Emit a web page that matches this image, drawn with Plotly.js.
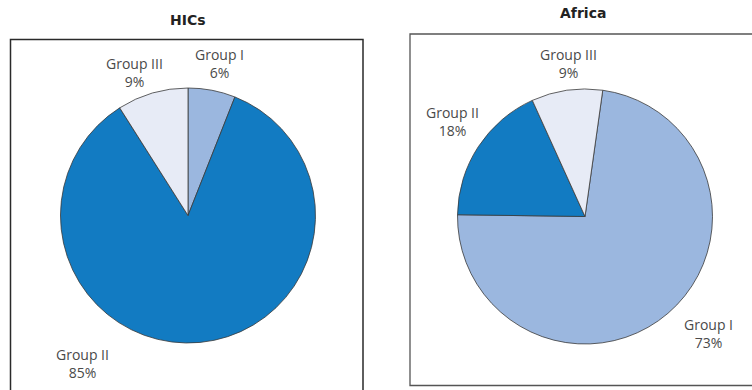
<!DOCTYPE html>
<html>
<head>
<meta charset="utf-8">
<script src="https://cdn.plot.ly/plotly-3.0.1.min.js"></script>
<style>html,body{margin:0;padding:0;background:#fff;}#chart{width:752px;height:390px;}</style>
</head>
<body>
<div id="chart"></div>
<script>
const groups = ["Group I", "Group II", "Group III"];
const hicsValues = [6, 85, 9];
const africaValues = [73, 18, 9];
const panelTitles = ["HICs", "Africa"];
const groupColors = ["#9bb7df", "#127bc2", "#e7ebf6"];

const W = 752, H = 390;
const px = x => x / W;
const py = y => 1 - y / H;

const pieStyle = {
  type: "pie",
  labels: groups,
  sort: false,
  direction: "clockwise",
  textinfo: "none",
  hoverinfo: "label+percent",
  showlegend: false,
  marker: {colors: groupColors, line: {color: "#3a3a3a", width: 0.8}}
};

const traces = [
  Object.assign({}, pieStyle, {
    values: hicsValues, rotation: 0,
    domain: {x: [px(60), px(316)], y: [py(343), py(88)]}
  }),
  Object.assign({}, pieStyle, {
    values: africaValues, rotation: 8,
    domain: {x: [px(457), px(713)], y: [py(344), py(89)]}
  })
];

// label placement (pixel centres) for each panel, in group order
const hicsLabelPos = [[219, 64], [82, 363], [134, 72]];
const africaLabelPos = [[708, 333], [452, 121], [568, 64]];

const labelFont = {family: "Open Sans, Noto Sans, sans-serif", size: 14, color: "#4a4a4a"};
const annotations = [];
function addLabels(values, pos) {
  const total = values.reduce((a, b) => a + b, 0);
  values.forEach((v, i) => {
    annotations.push({
      xref: "paper", yref: "paper",
      x: px(pos[i][0]), y: py(pos[i][1]),
      xanchor: "center", yanchor: "middle",
      text: groups[i] + "<br>" + Math.round(v / total * 100) + "%",
      showarrow: false, font: labelFont, align: "center"
    });
  });
}
addLabels(hicsValues, hicsLabelPos);
addLabels(africaValues, africaLabelPos);

annotations.push({
  xref: "paper", yref: "paper", x: px(188), y: py(20),
  xanchor: "center", yanchor: "middle", showarrow: false,
  text: "<b>" + panelTitles[0] + "</b>",
  font: {family: "DejaVu Sans, sans-serif", size: 14, color: "#222"}
});
annotations.push({
  xref: "paper", yref: "paper", x: px(583), y: py(13),
  xanchor: "center", yanchor: "middle", showarrow: false,
  text: "<b>" + panelTitles[1] + "</b>",
  font: {family: "DejaVu Sans, sans-serif", size: 14, color: "#222"}
});

const shapes = [
  {type: "rect", xref: "paper", yref: "paper",
   x0: px(10.5), x1: px(363), y0: py(395), y1: py(39.5),
   line: {color: "#2a2a2a", width: 1.5}},
  {type: "rect", xref: "paper", yref: "paper",
   x0: px(410), x1: px(760), y0: py(385.5), y1: py(34),
   line: {color: "#555", width: 1.3}}
];

const layout = {
  width: W, height: H,
  margin: {l: 0, r: 0, t: 0, b: 0},
  paper_bgcolor: "#fff",
  annotations: annotations,
  shapes: shapes
};

Plotly.newPlot("chart", traces, layout, {displayModeBar: false, staticPlot: true});
</script>
</body>
</html>
